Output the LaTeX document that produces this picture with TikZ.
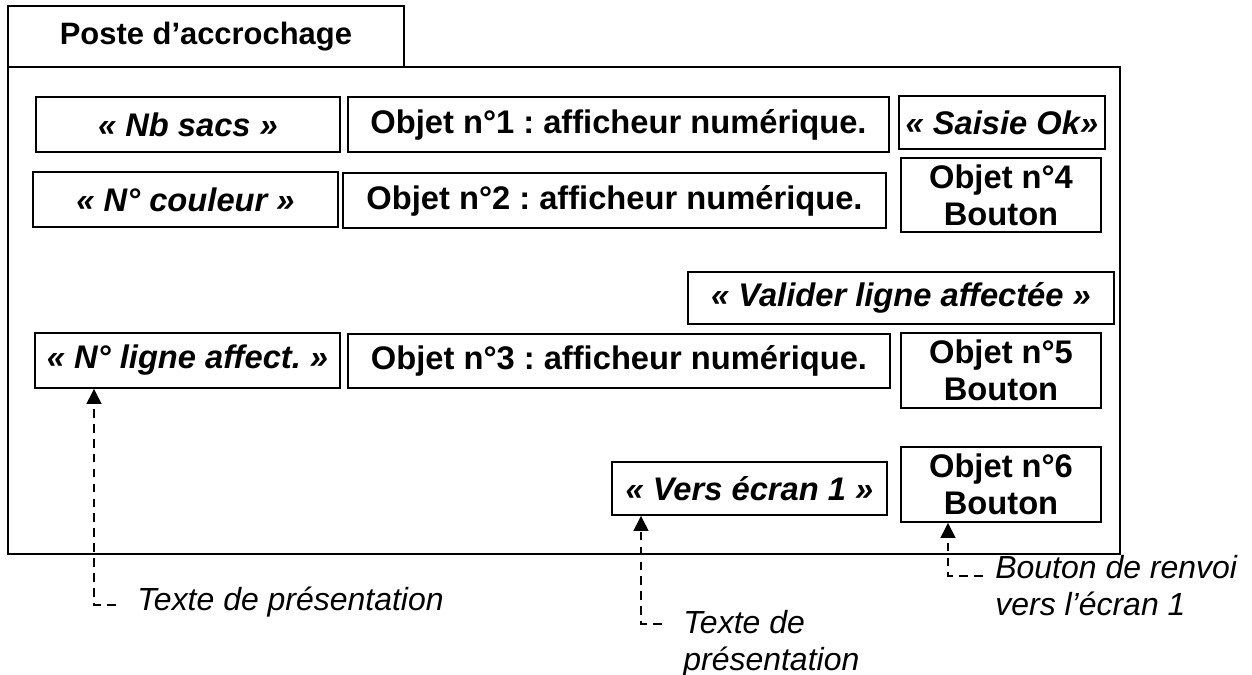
\documentclass[tikz,border=0pt]{standalone}
\usepackage{fontspec}
\setmainfont{Liberation Sans}
\usepackage{tikz}
\usetikzlibrary{arrows.meta, positioning}
\frenchspacing
\tikzstyle{cadre} = [draw, line width=1.1pt, rectangle, inner sep=0pt]
\tikzstyle{champ} = [draw, line width=1.1pt, rectangle, inner sep=0pt, text centered, font=\fontsize{18.6}{21}\selectfont\bfseries\itshape]
\tikzstyle{objet} = [draw, line width=1.1pt, rectangle, inner sep=0pt, align=center, font=\fontsize{18.6}{21}\selectfont\bfseries]
\tikzstyle{note} = [inner sep=0pt, align=left, font=\fontsize{18.2}{21}\selectfont\itshape]
\tikzstyle{renvoi} = [draw, line width=0.8pt, dash pattern=on 5pt off 3.5pt, -{Triangle[length=8.5pt,width=8.5pt]}]

\begin{document}
\begin{tikzpicture}[x=0.02cm, y=-0.02cm]
                \useasboundingbox (0,0) rectangle (1252,675);
                % Create Frame
                \node [cadre, anchor=north west, minimum width=7.92cm, minimum height=1.22cm, font=\fontsize{17.6}{21}\selectfont\bfseries] (titre) at (7,5) {Poste d’accrochage};
                \node [cadre, anchor=north west, minimum width=22.24cm, minimum height=9.74cm] (ecran) at (7,66) {};

                % Create Blocks
                \node [champ, minimum width=6.08cm, minimum height=1.10cm] (nbsacs) at (188,124.5) {« Nb sacs »};
                \node [objet, minimum width=10.82cm, minimum height=1.10cm] (objet1) at (618.5,124.5) {Objet n°1 : afficheur numérique.};
                \node [champ, minimum width=4.12cm, minimum height=1.06cm] (saisie) at (1002,122.5) {« Saisie Ok»};

                \node [champ, minimum width=6.10cm, minimum height=1.10cm] (couleur) at (185.5,199.5) {« N° couleur »};
                \node [objet, minimum width=10.86cm, minimum height=1.10cm] (objet2) at (614.5,200.5) {Objet n°2 : afficheur numérique.};
                \node [objet, minimum width=4.00cm, minimum height=1.48cm] (objet4) at (1001,195) {Objet n°4\\Bouton};

                \node [champ, minimum width=8.52cm, minimum height=1.04cm] (valider) at (901,298) {« Valider ligne affectée »};

                \node [champ, minimum width=6.10cm, minimum height=1.10cm] (ligne) at (187.5,360.5) {« N° ligne affect. »};
                \node [objet, minimum width=10.84cm, minimum height=1.08cm] (objet3) at (619,361) {Objet n°3 : afficheur numérique.};
                \node [objet, minimum width=4.00cm, minimum height=1.50cm] (objet5) at (1001,370.5) {Objet n°5\\Bouton};

                \node [champ, minimum width=5.50cm, minimum height=1.06cm] (ecran1) at (749.5,488.5) {« Vers écran 1 »};
                \node [objet, minimum width=4.00cm, minimum height=1.50cm] (objet6) at (1001,484.5) {Objet n°6\\Bouton};

                % Create Notes
                \node [note, anchor=base west] (noteA) at (137,611) {Texte de présentation};
                \node [note, anchor=north west] (noteB) at (683,610) {Texte de\\présentation};
                \node [note, anchor=north west] (noteC) at (995,555) {Bouton de renvoi\\vers l’écran 1};

                % Add Arrows
                \coordinate (flecheA) at (94,0);
                \coordinate (flecheB) at (641,0);
                \coordinate (flecheC) at (948,0);
                \path [renvoi, shorten <=12pt] ([yshift=3.5pt]noteA.base west) -| (flecheA |- ligne.south);
                \path [renvoi, shorten <=12pt] ([yshift=-8pt]noteB.north west) -| (flecheB |- ecran1.south);
                \path [renvoi, shorten <=6.8pt] ([yshift=-12pt]noteC.north west) -| (flecheC |- objet6.south);
            \end{tikzpicture}
\end{document}
